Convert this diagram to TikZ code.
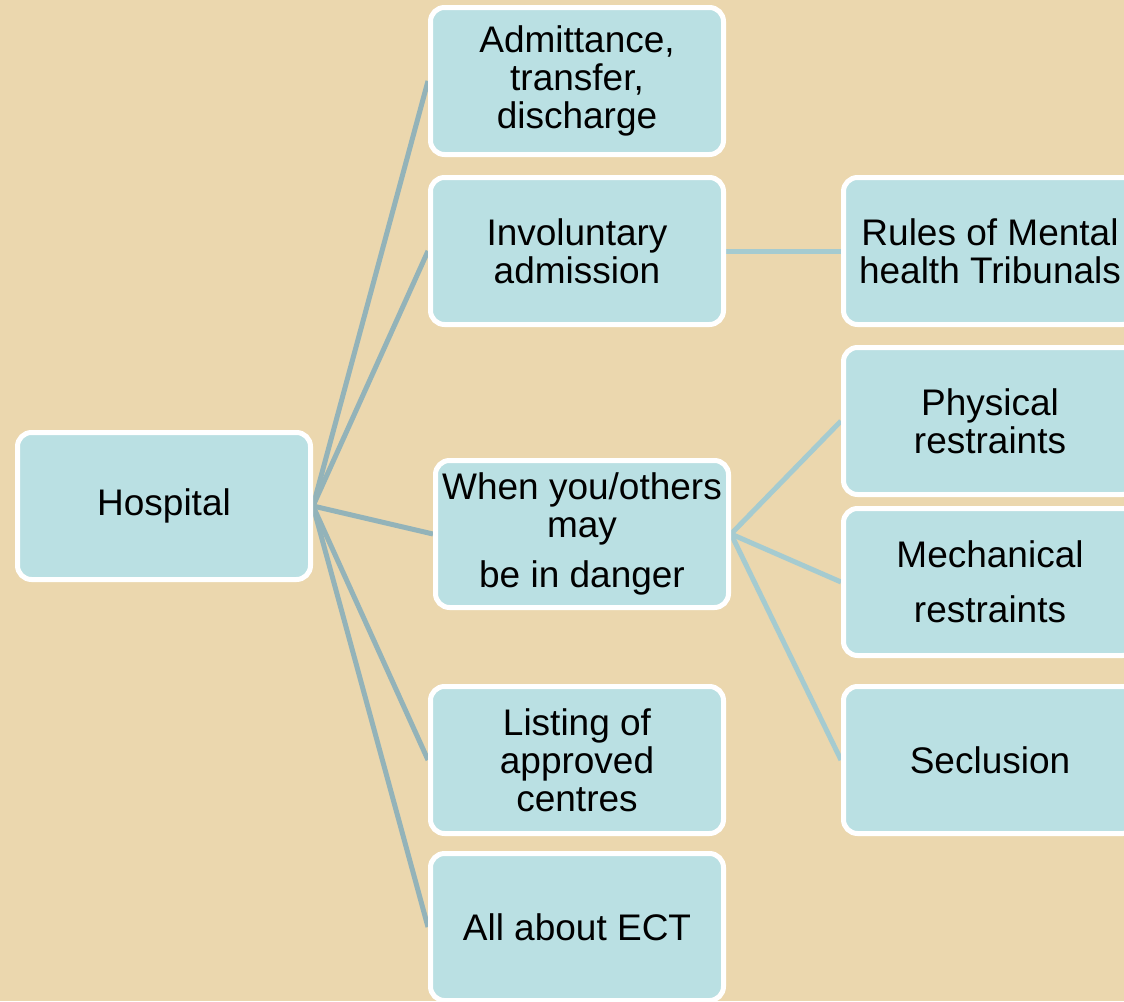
\documentclass[tikz,border=0pt]{standalone}
\usepackage{fontspec}
\setmainfont{Liberation Sans}
\pgfdeclarelayer{bg}
\pgfsetlayers{bg,main}
\definecolor{parch}{HTML}{EBD7AE}
\definecolor{boxfill}{HTML}{BAE0E3}
\definecolor{linkA}{HTML}{93B3B9}
\definecolor{linkB}{HTML}{A5CBD0}
\tikzset{
  itembox/.style={draw=white, line width=5pt, fill=boxfill, rounded corners=14pt,
    minimum width=293pt, minimum height=147pt, inner sep=0pt, align=center,
    font=\fontsize{37}{38}\selectfont, text=black},
  linkmain/.style={draw=linkA, line width=5pt},
  linksub/.style={draw=linkB, line width=5pt}
}
\begin{document}
\begin{tikzpicture}[x=1pt,y=-1pt]
\useasboundingbox (0,0) rectangle (1124,1001);
\clip (0,0) rectangle (1124,1001);
\node[itembox] (hosp) at (164,506) {Hospital};
\node[itembox] (adm) at (577,81) {Admittance,\\transfer,\\discharge};
\node[itembox] (inv) at (577,251) {Involuntary\\admission};
\node[itembox] (when) at (582,534) {When you/others\\may\\[12pt]be in danger};
\node[itembox] (list) at (577,760) {Listing of\\approved\\centres};
\node[itembox] (ect) at (577,927) {All about ECT};
\node[itembox] (rules) at (990,251) {Rules of Mental\\health Tribunals};
\node[itembox] (phys) at (990,421) {Physical\\restraints};
\node[itembox] (mech) at (990,582) {Mechanical\\[17pt]restraints};
\node[itembox] (secl) at (990,760) {Seclusion};
\begin{pgfonlayer}{bg}
  \fill[parch] (0,0) rectangle (1124,1001);
  \draw[linkmain] (hosp.east) -- (adm.west);
  \draw[linkmain] (hosp.east) -- (inv.west);
  \draw[linkmain] (hosp.east) -- (when.west);
  \draw[linkmain] (hosp.east) -- (list.west);
  \draw[linkmain] (hosp.east) -- (ect.west);
  \draw[linksub] (inv.east) -- (rules.west);
  \draw[linksub] (when.east) -- (phys.west);
  \draw[linksub] (when.east) -- (mech.west);
  \draw[linksub] (when.east) -- (secl.west);
\end{pgfonlayer}
\end{tikzpicture}
\end{document}
